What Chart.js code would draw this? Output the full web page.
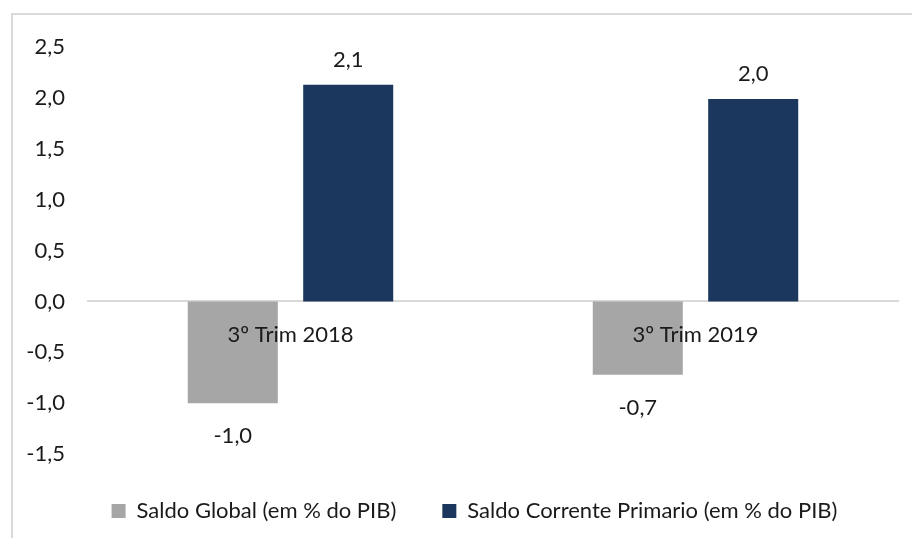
<!DOCTYPE html>
<html>
<head>
<meta charset="utf-8">
<script src="https://cdn.jsdelivr.net/npm/chart.js@4"></script>
<style>
    body { margin: 0; background: #fff; overflow: hidden; }
    #frame { position: absolute; left: 11px; top: 13px; width: 1000px; height: 600px;
             border-top: 2px solid #d9d9d9; border-left: 2px solid #d9d9d9; overflow: hidden; }
    #wrap { position: absolute; left: 0; top: -4px; width: 899px; height: 525px; }
</style>
</head>
<body>
<div id="frame"><div id="wrap"><canvas id="barChart"></canvas></div></div>
<script>
var categories = ["3º Trim 2018", "3º Trim 2019"];
var saldoGlobal = [-1.0, -0.72];
var saldoPrimario = [2.13, 1.99];
var seriesNames = ["Saldo Global (em % do PIB)", "Saldo Corrente Primario (em % do PIB)"];
var yTicks = [-1.5, -1.0, -0.5, 0.0, 0.5, 1.0, 1.5, 2.0, 2.5];

var fontFamily = "Lato, 'Noto Sans', sans-serif";
var textColor = "#1a1a1a";

function fmt(v) {
    return v.toFixed(1).replace(".", ",");
}

// value labels and category names, drawn over the bars
var barTexts = {
    id: "barTexts",
    afterLayout: function (chart) {
        // legend sits a bit right of the canvas centre
        chart.legend.left += 38;
    },
    afterDatasetsDraw: function (chart) {
        var ctx = chart.ctx;
        ctx.save();
        ctx.font = "22px " + fontFamily;
        ctx.fillStyle = textColor;
        ctx.textAlign = "center";
        ctx.textBaseline = "middle";
        chart.data.datasets.forEach(function (ds, i) {
            chart.getDatasetMeta(i).data.forEach(function (bar, j) {
                var v = ds.data[j];
                var y = v >= 0 ? bar.y - 25 : bar.y + 33;
                ctx.fillText(fmt(v), bar.x, y);
            });
        });
        var y0 = chart.scales.y.getPixelForValue(0);
        categories.forEach(function (c, j) {
            ctx.fillText(c, chart.scales.x.getPixelForValue(j), y0 + 33);
        });
        ctx.restore();
    }
};

var mainChart = new Chart(document.getElementById("barChart"), {
    type: "bar",
    data: {
        labels: categories,
        datasets: [
            { label: seriesNames[0], data: saldoGlobal, backgroundColor: "#a6a6a6" },
            { label: seriesNames[1], data: saldoPrimario, backgroundColor: "#1b375e" }
        ]
    },
    options: {
        responsive: true,
        maintainAspectRatio: false,
        animation: false,
        layout: { padding: { top: 10, right: 14, left: 0, bottom: 4 } },
        datasets: { bar: { categoryPercentage: 0.57, barPercentage: 0.78 } },
        plugins: {
            tooltip: { enabled: false },
            legend: {
                position: "bottom",
                labels: {
                    font: { family: fontFamily, size: 22 },
                    color: textColor,
                    boxWidth: 14,
                    boxHeight: 14,
                    padding: 46
                }
            }
        },
        scales: {
            x: {
                position: { y: 0 },
                grid: { display: false, drawTicks: false },
                border: { display: true, color: "#d9d9d9", width: 2 },
                ticks: { display: false }
            },
            y: {
                min: -1.5,
                max: 2.5,
                afterBuildTicks: function (axis) {
                    axis.ticks = yTicks.map(function (v) { return { value: v }; });
                },
                afterFit: function (axis) { axis.width = 75; },
                grid: { display: false, drawTicks: false },
                border: { display: false },
                ticks: {
                    font: { family: fontFamily, size: 22 },
                    color: textColor,
                    padding: 23,
                    callback: function (v) { return fmt(v); }
                }
            }
        }
    },
    plugins: [barTexts]
});
</script>
</body>
</html>
